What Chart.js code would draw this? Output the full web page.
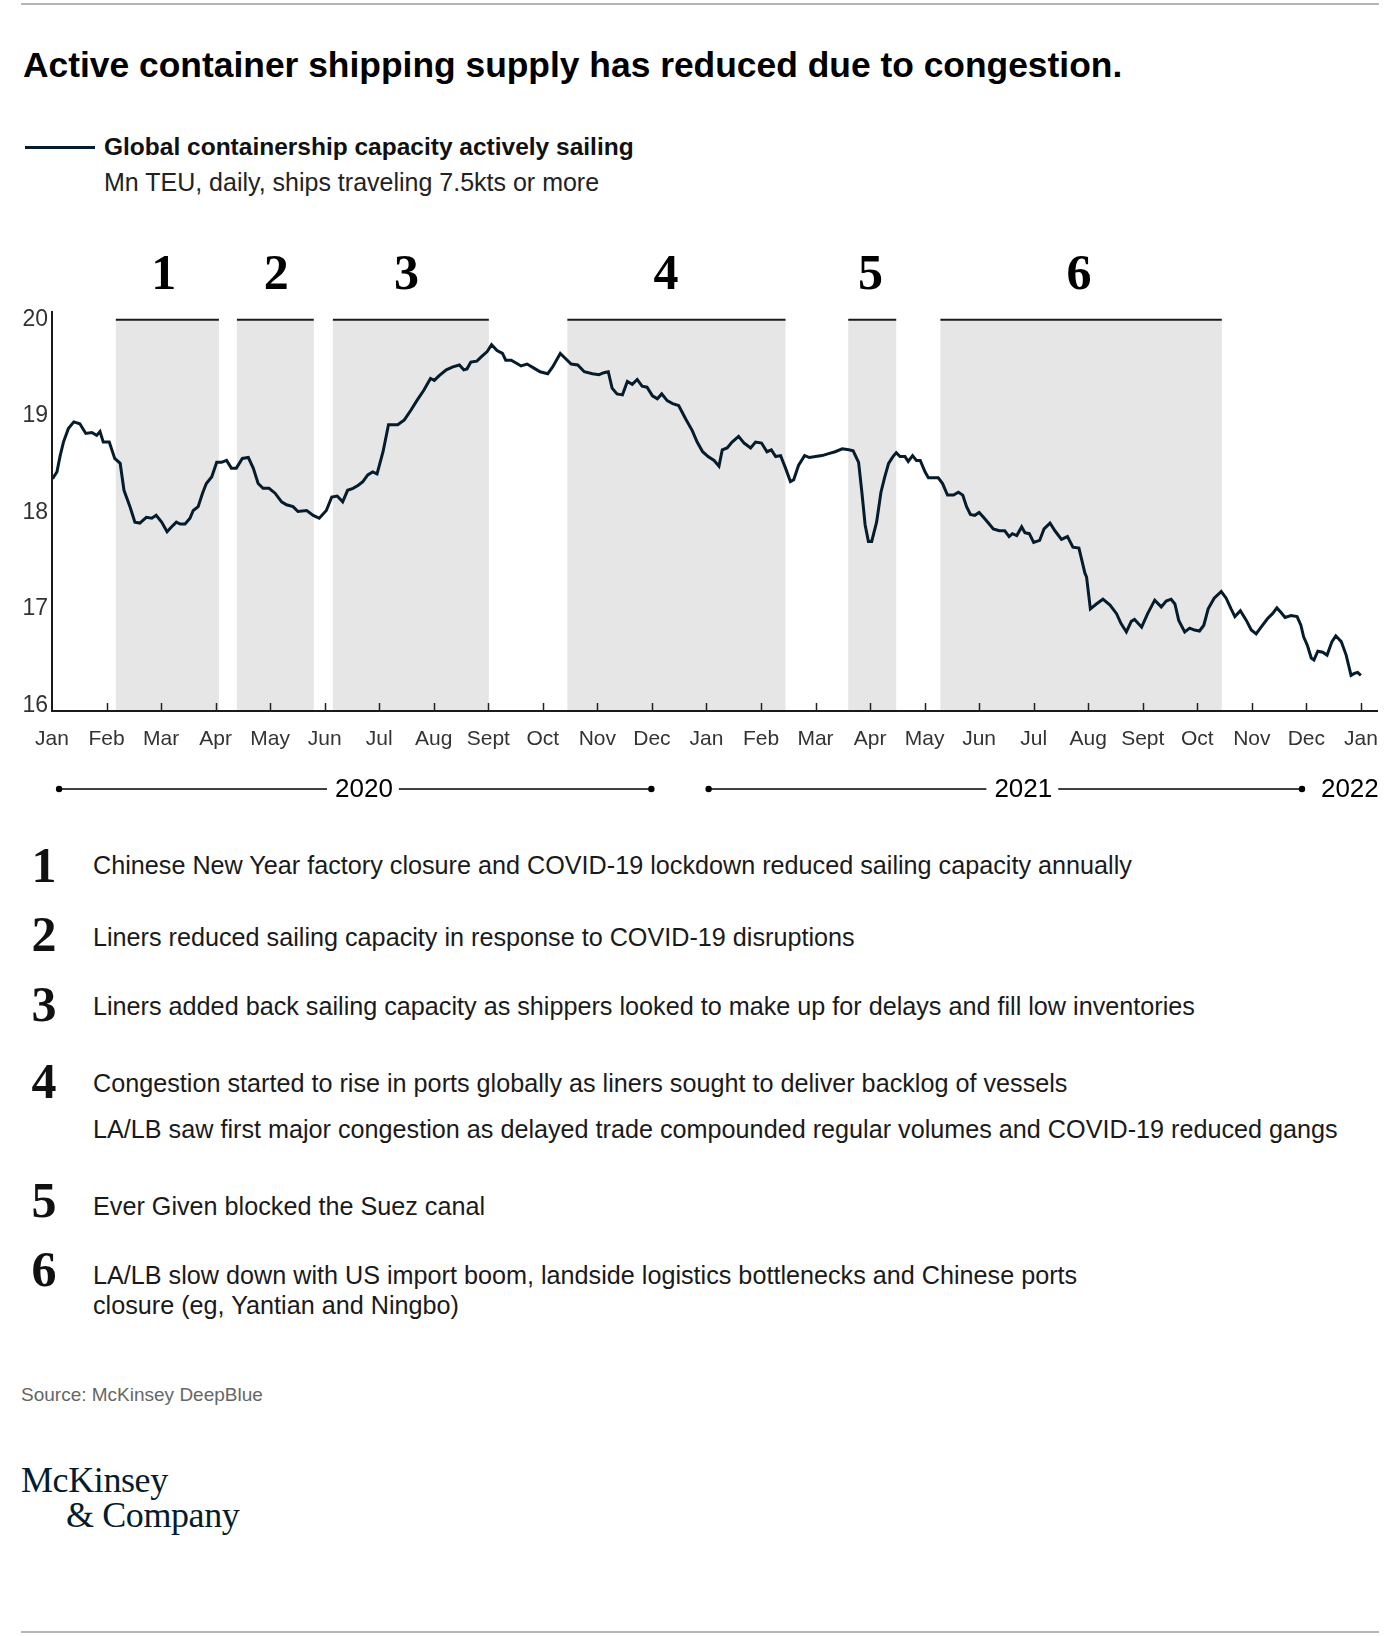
<!DOCTYPE html>
<html>
<head>
<meta charset="utf-8">
<script src="https://cdn.jsdelivr.net/npm/chart.js@4.4.0/dist/chart.umd.min.js"></script>
<style>
  body { margin: 0; background: #fff; }
  #page { position: relative; width: 1394px; height: 1636px; overflow: hidden;
          font-family: 'Liberation Sans', Arial, sans-serif; color: #111; }
  .rule { position: absolute; left: 21px; width: 1358px; height: 2px; background: #b5b5b5; }
  #title { position: absolute; left: 23px; top: 45px; font-size: 35.4px; font-weight: bold;
           line-height: 40px; color: #000; white-space: nowrap; }
  #legendLine { position: absolute; left: 25px; top: 146px; width: 70px; height: 3px; background: #051c2c; }
  #legendText { position: absolute; left: 104px; top: 134px; font-size: 24.5px; font-weight: bold;
                line-height: 26px; white-space: nowrap; }
  #legendSub { position: absolute; left: 104px; top: 169px; font-size: 25px; line-height: 26px;
               color: #222; white-space: nowrap; }
  #chartBox { position: absolute; left: 0; top: 220px; width: 1394px; height: 600px; }
  .noteNum { position: absolute; left: 24px; width: 40px; text-align: center;
             font-family: 'Liberation Serif', serif; font-weight: bold; font-size: 50px; line-height: 50px; }
  .noteText { position: absolute; left: 93px; font-size: 25.2px; line-height: 30px; color: #1a1a1a; white-space: nowrap; }
  #source { position: absolute; left: 21px; top: 1384px; font-size: 19px; color: #666; }
  .logo { position: absolute; font-family: 'Liberation Serif', serif; font-size: 36px; color: #051c2c;
          letter-spacing: -0.4px; line-height: 36px; }
</style>
</head>
<body>
<div id="page">
  <div class="rule" style="top:3px"></div>
  <div id="title">Active container shipping supply has reduced due to congestion.</div>
  <div id="legendLine"></div>
  <div id="legendText">Global containership capacity actively sailing</div>
  <div id="legendSub">Mn TEU, daily, ships traveling 7.5kts or more</div>
  <div id="chartBox"><canvas id="lineChart" width="1394" height="600"></canvas></div>
  <div id="notes"></div>
  <div id="source">Source: McKinsey DeepBlue</div>
  <div class="logo" style="left:21px; top:1462px">McKinsey</div>
  <div class="logo" style="left:66px; top:1497px">&amp; Company</div>
  <div class="rule" style="top:1631px"></div>
</div>
<script>
// x positions are months since Jan 2020 (0 = Jan 2020, 24 = Jan 2022)
const monthLabels = ['Jan', 'Feb', 'Mar', 'Apr', 'May', 'Jun', 'Jul', 'Aug', 'Sept', 'Oct', 'Nov', 'Dec',
  'Jan', 'Feb', 'Mar', 'Apr', 'May', 'Jun', 'Jul', 'Aug', 'Sept', 'Oct', 'Nov', 'Dec', 'Jan'];
const yTicks = [16, 17, 18, 19, 20];

// Global containership capacity actively sailing, Mn TEU
const monthPos = [
  0.01, 0.09, 0.15, 0.21, 0.30, 0.40, 0.51, 0.62, 0.73, 0.82, 0.88, 0.94, 1.05, 1.15, 1.25, 1.32, 1.43, 1.52, 1.61,
  1.73, 1.83, 1.91, 2.01, 2.11, 2.19, 2.28, 2.35, 2.44, 2.53, 2.59, 2.68, 2.76, 2.83, 2.93, 3.02, 3.11, 3.20, 3.29,
  3.38, 3.49, 3.60, 3.69, 3.78, 3.87, 3.98, 4.09, 4.21, 4.30, 4.42, 4.51, 4.67, 4.79, 4.90, 5.03, 5.13, 5.23, 5.33,
  5.42, 5.52, 5.61, 5.70, 5.79, 5.88, 5.96, 6.07, 6.17, 6.25, 6.34, 6.46, 6.58, 6.69, 6.82, 6.94, 7.01, 7.10, 7.23,
  7.35, 7.47, 7.55, 7.61, 7.68, 7.79, 7.88, 7.98, 8.06, 8.16, 8.26, 8.32, 8.42, 8.51, 8.60, 8.71, 8.83, 8.95, 9.09,
  9.18, 9.32, 9.41, 9.52, 9.64, 9.76, 9.91, 10.03, 10.12, 10.20, 10.27, 10.36, 10.46, 10.55, 10.64, 10.73, 10.82,
  10.91, 11.01, 11.10, 11.18, 11.28, 11.38, 11.49, 11.62, 11.74, 11.83, 11.93, 12.03, 12.14, 12.23, 12.29, 12.38,
  12.47, 12.59, 12.69, 12.81, 12.90, 13.01, 13.11, 13.19, 13.27, 13.36, 13.45, 13.54, 13.60, 13.69, 13.80, 13.89,
  14.00, 14.12, 14.24, 14.36, 14.49, 14.61, 14.69, 14.79, 14.85, 14.91, 14.97, 15.03, 15.12, 15.20, 15.27, 15.34,
  15.42, 15.48, 15.55, 15.64, 15.70, 15.78, 15.85, 15.92, 16.01, 16.07, 16.16, 16.25, 16.33, 16.42, 16.53, 16.62,
  16.70, 16.77, 16.84, 16.92, 17.00, 17.08, 17.17, 17.26, 17.37, 17.47, 17.55, 17.61, 17.69, 17.78, 17.84, 17.92,
  18.00, 18.11, 18.19, 18.30, 18.39, 18.51, 18.62, 18.72, 18.83, 18.94, 18.97, 19.04, 19.15, 19.27, 19.40, 19.52,
  19.60, 19.70, 19.79, 19.85, 19.98, 20.09, 20.22, 20.34, 20.43, 20.52, 20.59, 20.66, 20.77, 20.86, 20.95, 21.04,
  21.12, 21.20, 21.31, 21.44, 21.53, 21.62, 21.69, 21.79, 21.90, 21.99, 22.08, 22.17, 22.29, 22.38, 22.46, 22.54,
  22.61, 22.72, 22.83, 22.90, 22.95, 23.02, 23.09, 23.14, 23.21, 23.30, 23.38, 23.47, 23.54, 23.64, 23.73, 23.82,
  23.88, 23.94, 24.00
];
const capacity = [
  18.35, 18.42, 18.59, 18.73, 18.87, 18.94, 18.92, 18.82, 18.83, 18.80, 18.84, 18.73, 18.73, 18.56, 18.51, 18.23, 18.06, 17.90, 17.89,
  17.95, 17.94, 17.97, 17.90, 17.80, 17.85, 17.90, 17.88, 17.88, 17.94, 18.02, 18.06, 18.20, 18.30, 18.37, 18.52, 18.52, 18.54, 18.46,
  18.46, 18.56, 18.57, 18.46, 18.30, 18.25, 18.25, 18.20, 18.11, 18.08, 18.06, 18.01, 18.02, 17.97, 17.94, 18.02, 18.16, 18.17, 18.11,
  18.23, 18.25, 18.28, 18.32, 18.39, 18.42, 18.40, 18.63, 18.91, 18.91, 18.91, 18.96, 19.06, 19.16, 19.27, 19.39, 19.37, 19.42, 19.48,
  19.51, 19.53, 19.48, 19.49, 19.56, 19.57, 19.62, 19.67, 19.74, 19.68, 19.65, 19.58, 19.58, 19.55, 19.52, 19.54, 19.50, 19.46, 19.44,
  19.51, 19.65, 19.60, 19.54, 19.53, 19.46, 19.44, 19.43, 19.45, 19.46, 19.29, 19.23, 19.22, 19.36, 19.33, 19.38, 19.31,
  19.30, 19.21, 19.18, 19.23, 19.16, 19.13, 19.11, 18.97, 18.85, 18.73, 18.63, 18.58, 18.54, 18.48, 18.65, 18.67,
  18.73, 18.79, 18.72, 18.67, 18.73, 18.72, 18.63, 18.65, 18.58, 18.59, 18.46, 18.32, 18.34, 18.49, 18.59, 18.57,
  18.58, 18.59, 18.61, 18.63, 18.66, 18.65, 18.64, 18.52, 18.21, 17.87, 17.70, 17.70, 17.90, 18.21, 18.37, 18.51,
  18.58, 18.62, 18.58, 18.58, 18.53, 18.59, 18.54, 18.54, 18.42, 18.36, 18.36, 18.36, 18.30, 18.18, 18.18, 18.21,
  18.18, 18.06, 17.98, 17.97, 18.00, 17.95, 17.89, 17.83, 17.81, 17.81, 17.75, 17.78, 17.76, 17.85, 17.79, 17.78,
  17.69, 17.71, 17.83, 17.89, 17.81, 17.72, 17.75, 17.64, 17.63, 17.37, 17.33, 17.00, 17.05, 17.10, 17.04, 16.95,
  16.85, 16.76, 16.87, 16.89, 16.81, 16.95, 17.09, 17.02, 17.08, 17.10, 17.05, 16.88, 16.76, 16.80, 16.78, 16.77,
  16.83, 17.00, 17.11, 17.18, 17.11, 17.00, 16.92, 16.98, 16.88, 16.78, 16.74, 16.81, 16.90, 16.95, 17.01, 16.96,
  16.91, 16.93, 16.92, 16.83, 16.71, 16.62, 16.49, 16.47, 16.56, 16.55, 16.52, 16.66, 16.72, 16.66, 16.52, 16.31,
  16.33, 16.34, 16.31
];

// shaded periods (months since Jan 2020) and where their numbers sit
const bandLabels = ['1', '2', '3', '4', '5', '6'];
const bandStart = [1.17, 3.39, 5.15, 9.45, 14.60, 16.29];
const bandEnd = [3.06, 4.80, 8.01, 13.45, 15.48, 21.45];
const bandLabelAt = [2.05, 4.11, 6.50, 11.26, 15.01, 18.83];

const years = ['2020', '2021', '2022'];

const notes = [
  ['1', ['Chinese New Year factory closure and COVID-19 lockdown reduced sailing capacity annually']],
  ['2', ['Liners reduced sailing capacity in response to COVID-19 disruptions']],
  ['3', ['Liners added back sailing capacity as shippers looked to make up for delays and fill low inventories']],
  ['4', ['Congestion started to rise in ports globally as liners sought to deliver backlog of vessels',
         'LA/LB saw first major congestion as delayed trade compounded regular volumes and COVID-19 reduced gangs']],
  ['5', ['Ever Given blocked the Suez canal']],
  ['6', ['LA/LB slow down with US import boom, landside logistics bottlenecks and Chinese ports',
         'closure (eg, Yantian and Ningbo)']]
];

// footnotes
const noteNumTop = [840, 909, 979, 1056, 1175, 1244];
const noteLineTop = [[850], [922], [991], [1068, 1114], [1191], [1260, 1290]];
const notesEl = document.getElementById('notes');
notes.forEach((n, i) => {
  const num = document.createElement('div');
  num.className = 'noteNum';
  num.style.top = noteNumTop[i] + 'px';
  num.textContent = n[0];
  notesEl.appendChild(num);
  n[1].forEach((line, j) => {
    const t = document.createElement('div');
    t.className = 'noteText';
    t.style.top = noteLineTop[i][j] + 'px';
    t.textContent = line;
    notesEl.appendChild(t);
  });
});

const ink = '#051c2c';
const sansFamily = "'Liberation Sans', Arial, sans-serif";

const decorations = {
  id: 'decorations',
  beforeDraw(chart) {
    const { ctx, chartArea, scales: { x, y } } = chart;
    const top = y.getPixelForValue(20);
    ctx.save();
    bandStart.forEach((s, i) => {
      const x0 = x.getPixelForValue(s);
      const x1 = x.getPixelForValue(bandEnd[i]);
      ctx.fillStyle = '#e6e6e6';
      ctx.fillRect(x0, top, x1 - x0, chartArea.bottom - top);
      ctx.strokeStyle = '#1a1a1a';
      ctx.lineWidth = 2;
      ctx.beginPath();
      ctx.moveTo(x0, top);
      ctx.lineTo(x1, top);
      ctx.stroke();
      ctx.fillStyle = '#000';
      ctx.font = "bold 50px 'Liberation Serif', serif";
      ctx.textAlign = 'center';
      ctx.textBaseline = 'middle';
      ctx.fillText(bandLabels[i], x.getPixelForValue(bandLabelAt[i]), top - 44);
    });
    ctx.restore();
  },
  afterDraw(chart) {
    const { ctx, chartArea, scales: { x } } = chart;
    ctx.save();
    // inward month ticks
    ctx.strokeStyle = '#222';
    ctx.lineWidth = 1.5;
    for (let m = 1; m < monthLabels.length; m++) {
      const px = Math.round(x.getPixelForValue(m)) + 0.5;
      ctx.beginPath();
      ctx.moveTo(px, chartArea.bottom);
      ctx.lineTo(px, chartArea.bottom - 8);
      ctx.stroke();
    }
    // year row
    const rowY = 569;
    ctx.font = '26px ' + sansFamily;
    ctx.fillStyle = '#000';
    ctx.strokeStyle = '#000';
    ctx.lineWidth = 1.5;
    ctx.textBaseline = 'middle';
    const dot = (px) => { ctx.beginPath(); ctx.arc(px, rowY, 3.2, 0, Math.PI * 2); ctx.fill(); };
    const seg = (a, b) => { ctx.beginPath(); ctx.moveTo(a, rowY); ctx.lineTo(b, rowY); ctx.stroke(); };
    const spans = [[0.13, 10.99, 5.72], [12.04, 22.92, 17.81]];
    spans.forEach((sp, i) => {
      const a = x.getPixelForValue(sp[0]);
      const b = x.getPixelForValue(sp[1]);
      const c = x.getPixelForValue(sp[2]);
      const w = ctx.measureText(years[i]).width;
      ctx.textAlign = 'center';
      ctx.fillText(years[i], c, rowY + 1);
      seg(a, c - w / 2 - 8);
      seg(c + w / 2 + 6, b);
      dot(a);
      dot(b);
    });
    ctx.textAlign = 'right';
    ctx.fillText(years[2], chartArea.right + 1, rowY + 1);
    ctx.restore();
  }
};

new Chart(document.getElementById('lineChart'), {
  type: 'line',
  data: {
    datasets: [{
      label: 'Global containership capacity actively sailing',
      data: monthPos.map((m, i) => ({ x: m, y: capacity[i] })),
      borderColor: ink,
      borderWidth: 3,
      pointRadius: 0,
      tension: 0,
      fill: false
    }]
  },
  options: {
    responsive: false,
    animation: false,
    events: [],
    layout: { padding: { top: 92, right: 15, left: 0, bottom: 0 } },
    plugins: { legend: { display: false }, tooltip: { enabled: false } },
    scales: {
      x: {
        type: 'linear',
        min: 0,
        max: 24.31,
        afterBuildTicks: (s) => { s.ticks = monthLabels.map((_, i) => ({ value: i })); },
        afterFit: (s) => { s.height = 109; },
        grid: { display: false, drawTicks: false },
        border: { display: true, color: '#1a1a1a', width: 2, z: 1 },
        ticks: {
          autoSkip: false,
          maxRotation: 0,
          padding: 16,
          color: '#333',
          font: { family: sansFamily, size: 21 },
          callback: (v, i) => monthLabels[i]
        }
      },
      y: {
        min: 15.94,
        max: 20.08,
        afterBuildTicks: (s) => { s.ticks = yTicks.map(v => ({ value: v })); },
        afterFit: (s) => { s.width = 52; },
        grid: { display: false, drawTicks: false },
        border: { display: true, color: '#1a1a1a', width: 2, z: 1 },
        ticks: { padding: 4, color: '#333', font: { family: sansFamily, size: 23 } }
      }
    }
  },
  plugins: [decorations]
});
</script>
</body>
</html>
